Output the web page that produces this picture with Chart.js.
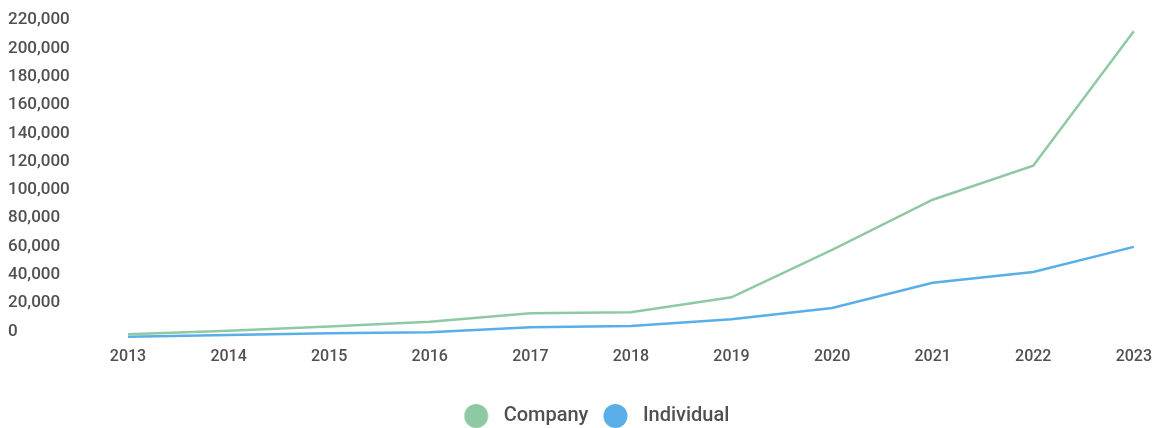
<!DOCTYPE html>
<html>
<head>
<meta charset="utf-8">
<script src="https://cdn.jsdelivr.net/npm/chart.js@4"></script>
<style>
  html, body { margin: 0; padding: 0; background: #fff; }
  #wrap { width: 1161px; height: 428px; position: relative; }
</style>
</head>
<body>
<div id="wrap"><canvas id="chart"></canvas></div>
<script>
// yearly totals by applicant type
const years = ['2013', '2014', '2015', '2016', '2017', '2018', '2019', '2020', '2021', '2022', '2023'];
const company = [3000, 5500, 8400, 11900, 17800, 18500, 29100, 62600, 98000, 122000, 217000];
const individual = [1300, 2500, 3700, 4400, 7900, 8800, 13600, 21600, 39300, 47000, 64700];
const yTicks = [0, 20000, 40000, 60000, 80000, 100000, 120000, 140000, 160000, 180000, 200000, 220000];

const GREEN = '#8ec9a4';
const BLUE = '#5aaee8';
const TEXT = '#505050';

// legend dot drawn on a small canvas so it can sit a bit left of its slot
function makeDot(color) {
  const c = document.createElement('canvas');
  c.width = 40;
  c.height = 26;
  const g = c.getContext('2d');
  g.fillStyle = color;
  g.beginPath();
  g.arc(12.5, 13, 12, 0, Math.PI * 2);
  g.fill();
  return c;
}

// nudge the legend right of the canvas centre
const legendShift = {
  id: 'legendShift',
  afterLayout(chart) {
    chart.legend.left += 30;
    chart.legend.right += 30;
  }
};

const ctx = document.getElementById('chart').getContext('2d');

new Chart(ctx, {
  type: 'line',
  data: {
    labels: years,
    datasets: [
      {
        label: 'Company',
        data: company,
        borderColor: GREEN,
        backgroundColor: GREEN,
        borderWidth: 2.5,
        pointRadius: 0,
        tension: 0
      },
      {
        label: 'Individual',
        data: individual,
        borderColor: BLUE,
        backgroundColor: BLUE,
        borderWidth: 2.5,
        pointRadius: 0,
        tension: 0
      }
    ]
  },
  plugins: [legendShift],
  options: {
    responsive: true,
    maintainAspectRatio: false,
    animation: false,
    layout: {
      padding: { top: 27, right: 26, left: 8, bottom: -8 }
    },
    scales: {
      x: {
        offset: false,
        grid: { display: false, drawTicks: false },
        border: { display: false },
        ticks: {
          color: TEXT,
          padding: 9,
          maxRotation: 0,
          font: { family: 'Roboto', size: 16, weight: '500' }
        },
        afterFit: (scale) => { scale.height = 43; }
      },
      y: {
        min: 0,
        max: 220000,
        grid: { display: false, drawTicks: false },
        border: { display: false },
        afterBuildTicks: (scale) => {
          scale.ticks = yTicks.map(v => ({ value: v }));
        },
        afterFit: (scale) => { scale.width = 120; },
        ticks: {
          color: TEXT,
          crossAlign: 'far',
          labelOffset: -7,
          font: { family: 'Roboto', size: 17, weight: '500' },
          callback: (v) => v.toLocaleString('en-US')
        }
      }
    },
    plugins: {
      tooltip: { enabled: false },
      legend: {
        position: 'bottom',
        labels: {
          usePointStyle: true,
          boxWidth: 20,
          boxHeight: 20,
          padding: 24.5,
          color: TEXT,
          font: { family: 'Roboto', size: 20, weight: '500' },
          generateLabels: (chart) =>
            Chart.defaults.plugins.legend.labels.generateLabels(chart)
              .map(item => ({ ...item, pointStyle: makeDot(item.fillStyle) }))
        }
      }
    }
  }
});
</script>
</body>
</html>
